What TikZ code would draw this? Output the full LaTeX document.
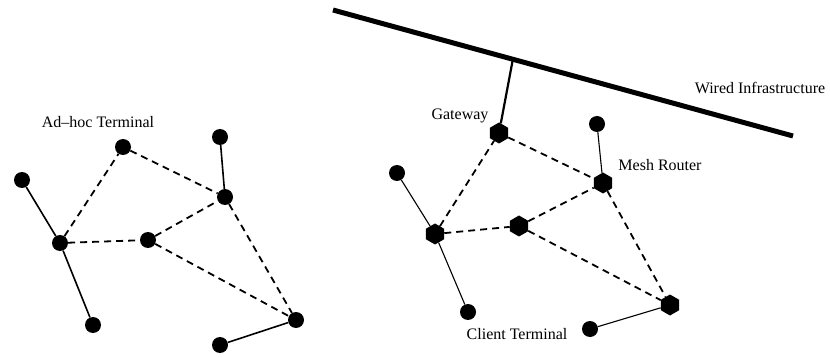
\documentclass[tikz,border=0pt]{standalone}
\usepackage{fontspec}
\setmainfont{Liberation Serif}
\usetikzlibrary{shapes.geometric,calc}
\begin{document}
\begin{tikzpicture}[x=1pt,y=-1pt,
  terminal/.style={circle,fill=black,inner sep=0pt,minimum size=16pt},
  router/.style={regular polygon,regular polygon sides=6,shape border rotate=90,fill=black,inner sep=0pt,minimum size=21pt},
  wireless/.style={line width=1.8pt,dash pattern=on 7pt off 5pt},
  link/.style={line width=1.6pt},
  thinlink/.style={line width=1.1pt},
  lbl/.style={font=\fontsize{16}{18}\selectfont,anchor=base,inner sep=0pt}]
\useasboundingbox (0,0) rectangle (830,358);

% ad-hoc network
\node[terminal] (la) at (22,180) {};
\node[terminal] (lb) at (60,243) {};
\node[terminal] (lc) at (93,325) {};
\node[terminal] (ld) at (123,147) {};
\node[terminal] (le) at (148,240) {};
\node[terminal] (lf) at (220,137) {};
\node[terminal] (lg) at (225,197) {};
\node[terminal] (lh) at (296,320) {};
\node[terminal] (li) at (220,345) {};

\draw[link] (la) -- (lb);
\draw[link] (lb) -- (lc);
\draw[link] (lf) -- (lg);
\draw[link] (lh) -- (li);
\draw[wireless] (lb) -- (ld);
\draw[wireless] (lb) -- (le);
\draw[wireless] (ld) -- (lg);
\draw[wireless] (le) -- (lg);
\draw[wireless] (le) -- (lh);
\draw[wireless] (lg) -- (lh);

\node[lbl] (adhoc) at (98,128) {Ad–hoc Terminal};

% wired backbone
\coordinate (w1) at (333,10);
\coordinate (w2) at (793,136);
\coordinate (tap) at ($(w1)!0.391!(w2)$);
\draw[line width=5pt] (w1) -- (w2);

% mesh network
\node[router] (gw) at (499,133) {};
\node[terminal] (rtop) at (597,124) {};
\node[router] (mr) at (603,183) {};
\node[terminal] (rl) at (397,173) {};
\node[router] (rh) at (435,234) {};
\node[router] (rc) at (519,226) {};
\node[terminal] (rb) at (468,312) {};
\node[router] (rbr) at (670,305) {};
\node[terminal] (ct) at (590,329) {};

\draw[line width=2.2pt] (tap) -- (gw);
\draw[thinlink] (rl) -- (rh);
\draw[thinlink] (rh) -- (rb);
\draw[thinlink] (rtop) -- (mr);
\draw[thinlink] (rbr) -- (ct);
\draw[wireless] (rh) -- (gw);
\draw[wireless] (rh) -- (rc);
\draw[wireless] (gw) -- (mr);
\draw[wireless] (rc) -- (mr);
\draw[wireless] (rc) -- (rbr);
\draw[wireless] (mr) -- (rbr);

\node[lbl] (gwl) at (460,120) {Gateway};
\node[lbl] (wired) at (760,94) {Wired Infrastructure};
\node[lbl] (mrl) at (660,171) {Mesh Router};
\node[lbl] (ctl) at (517,339) {Client Terminal};
\end{tikzpicture}
\end{document}
